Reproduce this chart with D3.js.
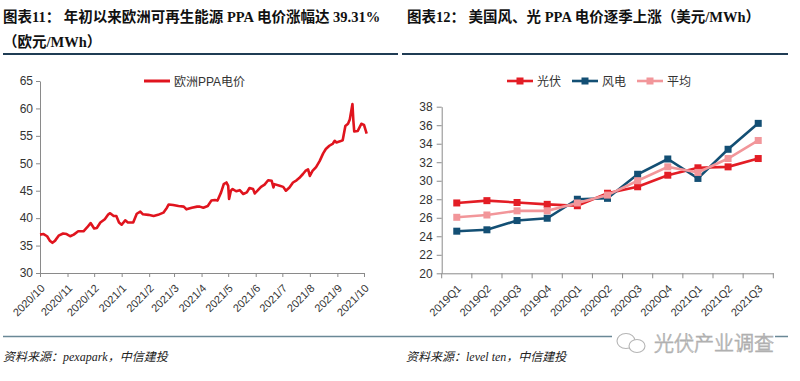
<!DOCTYPE html>
<html><head><meta charset="utf-8">
<script src="https://cdn.jsdelivr.net/npm/d3@7"></script>
<style>
html,body{margin:0;padding:0;background:#fff;}
svg{display:block;}
</style></head>
<body>
<svg id="c" width="800" height="381"></svg>
<script>
// ---------- data ----------
const euDates = ["2020-10-01","2020-10-05","2020-10-09","2020-10-12","2020-10-15","2020-10-18","2020-10-22","2020-10-27","2020-10-31",
"2020-11-04","2020-11-08","2020-11-13","2020-11-19","2020-11-23","2020-11-27","2020-12-01","2020-12-04","2020-12-08","2020-12-13",
"2020-12-17","2020-12-19","2020-12-23","2020-12-26","2020-12-29","2021-01-01","2021-01-05","2021-01-08","2021-01-14","2021-01-18",
"2021-01-22","2021-01-25","2021-01-31","2021-02-06","2021-02-11","2021-02-17","2021-02-21","2021-02-23","2021-02-28","2021-03-06",
"2021-03-12","2021-03-15","2021-03-21","2021-03-27","2021-03-30","2021-04-03","2021-04-08","2021-04-12","2021-04-16","2021-04-19",
"2021-04-23","2021-04-26","2021-04-29","2021-05-01","2021-05-02","2021-05-04","2021-05-06","2021-05-10","2021-05-14","2021-05-18",
"2021-05-22","2021-05-25","2021-05-29","2021-05-31","2021-06-03","2021-06-07","2021-06-11","2021-06-15","2021-06-19","2021-06-21",
"2021-06-22","2021-06-28","2021-07-02","2021-07-05","2021-07-09","2021-07-13","2021-07-17","2021-07-20","2021-07-24","2021-07-27",
"2021-07-30","2021-08-01","2021-08-04","2021-08-08","2021-08-12","2021-08-16","2021-08-19","2021-08-23","2021-08-27","2021-08-29",
"2021-08-31","2021-09-04","2021-09-07","2021-09-10","2021-09-13","2021-09-15","2021-09-18","2021-09-19","2021-09-20","2021-09-24",
"2021-09-28","2021-10-01","2021-10-04"];
const euPrices = [37.0,37.1,36.7,35.9,35.5,35.9,36.8,37.2,37.1,
36.7,37.0,37.6,37.6,38.3,39.1,38.1,38.2,39.2,39.8,
40.7,40.9,40.4,40.4,39.2,38.8,39.6,39.2,39.2,40.8,
41.2,40.7,40.6,40.4,40.6,41.0,41.9,42.5,42.4,42.2,
42.1,41.6,41.9,42.1,42.1,41.9,42.2,43.2,43.3,43.2,
44.7,46.2,46.5,45.9,43.5,45.0,45.3,44.9,45.1,44.4,
44.7,45.5,45.3,44.5,45.0,45.7,46.1,46.9,46.8,45.6,
46.2,45.9,45.7,45.0,45.6,46.5,46.9,47.3,48.0,48.6,
48.9,47.7,48.6,49.3,50.4,51.8,52.6,53.2,53.6,54.1,
53.8,54.0,54.2,56.8,57.2,58.0,60.8,57.8,55.8,55.9,
57.2,57.0,55.4];
const euTicksY = [30,35,40,45,50,55,60,65];

const quarters = ["2019Q1","2019Q2","2019Q3","2019Q4","2020Q1","2020Q2","2020Q3","2020Q4","2021Q1","2021Q2","2021Q3"];
const solar = [27.6,27.85,27.65,27.45,27.3,28.65,29.35,30.6,31.4,31.5,32.4];
const wind  = [24.55,24.7,25.7,25.95,28.0,28.1,30.7,32.35,30.25,33.4,36.2];
const avg   = [26.05,26.3,26.75,26.75,27.6,28.45,30.0,31.5,30.9,32.4,34.35];
const usTicksY = [20,22,24,26,28,30,32,34,36,38];
const usSeries = [
  {name:"光伏", values:solar, color:"#e31d25"},
  {name:"风电", values:wind, color:"#134f74"},
  {name:"平均", values:avg, color:"#f2969a"}
];

// ---------- drawing ----------
const svg = d3.select("#c");
const SANS = "'Liberation Sans', Arial, 'Noto Sans CJK SC', sans-serif";
const SERIF = "'Liberation Serif', 'Times New Roman', 'Noto Sans CJK SC', serif";
const axisColor = "#8a8a8a";
const textColor = "#333";

// titles
svg.append("text").attr("x",3).attr("y",22).attr("font-family",SERIF).attr("font-weight","bold")
  .attr("font-size",14.5).attr("fill","#111").text("图表11：  年初以来欧洲可再生能源 PPA 电价涨幅达 39.31%");
svg.append("text").attr("x",3).attr("y",47).attr("font-family",SERIF).attr("font-weight","bold")
  .attr("font-size",14.5).attr("fill","#111").text("（欧元/MWh）");
svg.append("text").attr("x",407).attr("y",22).attr("font-family",SERIF).attr("font-weight","bold")
  .attr("font-size",14.5).attr("fill","#111").text("图表12：  美国风、光 PPA 电价逐季上涨（美元/MWh）");

// separator lines
svg.append("line").attr("x1",3).attr("x2",398).attr("y1",54).attr("y2",54).attr("stroke","#1f3c54").attr("stroke-width",2);
svg.append("line").attr("x1",402).attr("x2",788).attr("y1",54).attr("y2",54).attr("stroke","#1f3c54").attr("stroke-width",2);
svg.append("line").attr("x1",3).attr("x2",788).attr("y1",336.5).attr("y2",336.5).attr("stroke","#6a8896").attr("stroke-width",1.5);

// sources
svg.append("text").attr("x",3).attr("y",361).attr("font-family",SERIF).attr("font-style","italic")
  .attr("font-size",12).attr("fill","#222").text("资料来源：pexapark，中信建投");
svg.append("text").attr("x",406).attr("y",361).attr("font-family",SERIF).attr("font-style","italic")
  .attr("font-size",12).attr("fill","#222").text("资料来源：level ten，中信建投");

// ---------- left chart ----------
const parse = d3.timeParse("%Y-%m-%d");
const euData = euDates.map((d,i)=>({date:parse(d), v:euPrices[i]}));
const xL = d3.scaleTime().domain([parse("2020-10-01"), parse("2021-10-01")]).range([40,364]);
const yL = d3.scaleLinear().domain([30,65]).range([273,81]);

const gLy = svg.append("g").attr("transform","translate(40,0)")
  .call(d3.axisLeft(yL).tickValues(euTicksY).tickSize(4).tickPadding(3).tickSizeOuter(0));
const gLx = svg.append("g").attr("transform","translate(0,273)")
  .call(d3.axisBottom(xL).ticks(d3.timeMonth.every(1)).tickFormat(d3.timeFormat("%Y/%-m")).tickSize(4).tickSizeOuter(0));
gLx.selectAll("text").attr("text-anchor","end").attr("dy",null).attr("y",null)
  .attr("transform","translate(5,16) rotate(-45)");

[gLy,gLx].forEach(g=>{
  g.selectAll("path,line").attr("stroke",axisColor);
  g.selectAll("text").attr("fill",textColor).attr("font-family",SANS);
});
gLy.selectAll("text").attr("font-size",12);
gLx.selectAll("text").attr("font-size",11);

svg.append("path").datum(euData)
  .attr("fill","none").attr("stroke","#e0141e").attr("stroke-width",2.6).attr("stroke-linejoin","round")
  .attr("d", d3.line().x(d=>xL(d.date)).y(d=>yL(d.v)));

// left legend
svg.append("line").attr("x1",144).attr("x2",170).attr("y1",81).attr("y2",81).attr("stroke","#e0141e").attr("stroke-width",3);
svg.append("text").attr("x",174).attr("y",85.5).attr("font-family",SANS).attr("font-size",12).attr("fill",textColor).text("欧洲PPA电价");

// ---------- right chart ----------
const xR = d3.scaleBand().domain(quarters).range([441.7,773.3]);
const yR = d3.scaleLinear().domain([20,38]).range([273.3,106.7]);

const gRy = svg.append("g").attr("transform","translate(441.7,0)")
  .call(d3.axisLeft(yR).tickValues(usTicksY).tickSize(5).tickPadding(4).tickSizeOuter(0));
const gRx = svg.append("g").attr("transform","translate(0,273.3)")
  .call(d3.axisBottom(xR).tickSize(0).tickSizeOuter(0));
gRx.selectAll("text").attr("text-anchor","end").attr("dy",null).attr("y",null)
  .attr("transform","translate(5,16) rotate(-45)");
// boundary ticks
const bounds = quarters.map(q=>xR(q)).concat([xR.range()[1]]);
gRx.selectAll("line.b").data(bounds).enter().append("line").attr("class","b")
  .attr("x1",d=>d).attr("x2",d=>d).attr("y1",0).attr("y2",5);

[gRy,gRx].forEach(g=>{
  g.selectAll("path,line").attr("stroke",axisColor);
  g.selectAll("text").attr("fill",textColor).attr("font-family",SANS);
});
gRy.selectAll("text").attr("font-size",12);
gRx.selectAll("text").attr("font-size",11);

const cx = q => xR(q) + xR.bandwidth()/2;
usSeries.forEach(s=>{
  const pts = quarters.map((q,i)=>({q, v:s.values[i]}));
  svg.append("path").datum(pts).attr("fill","none").attr("stroke",s.color).attr("stroke-width",2.6)
    .attr("d", d3.line().x(d=>cx(d.q)).y(d=>yR(d.v)));
  svg.selectAll(null).data(pts).enter().append("rect")
    .attr("x",d=>cx(d.q)-3.5).attr("y",d=>yR(d.v)-3.5).attr("width",7).attr("height",7).attr("fill",s.color);
});

// right legend
const legX = [507, 572, 637];
usSeries.forEach((s,i)=>{
  const x0 = legX[i];
  svg.append("line").attr("x1",x0).attr("x2",x0+26).attr("y1",81).attr("y2",81).attr("stroke",s.color).attr("stroke-width",2.6);
  svg.append("rect").attr("x",x0+13-3.5).attr("y",81-3.5).attr("width",7).attr("height",7).attr("fill",s.color);
  svg.append("text").attr("x",x0+30).attr("y",85.5).attr("font-family",SANS).attr("font-size",12).attr("fill",textColor).text(s.name);
});

// ---------- watermark ----------
const wm = svg.append("g");
wm.append("rect").attr("x",612).attr("y",329).attr("width",163).attr("height",26).attr("fill","#fff");
wm.append("ellipse").attr("cx",626).attr("cy",341).attr("rx",9).attr("ry",7.5).attr("fill","#fff").attr("stroke","#b5b5b5").attr("stroke-width",1.1);
wm.append("ellipse").attr("cx",637).attr("cy",346).attr("rx",8).attr("ry",6.5).attr("fill","#fff").attr("stroke","#b5b5b5").attr("stroke-width",1.1);
wm.append("text").attr("x",654).attr("y",351).attr("font-family","'Noto Sans CJK SC', sans-serif").attr("font-size",20)
  .attr("font-weight",300).attr("fill","#fafafa").attr("stroke","#b0b0b0").attr("stroke-width",0.8).text("光伏产业调查");
</script>
</body></html>
